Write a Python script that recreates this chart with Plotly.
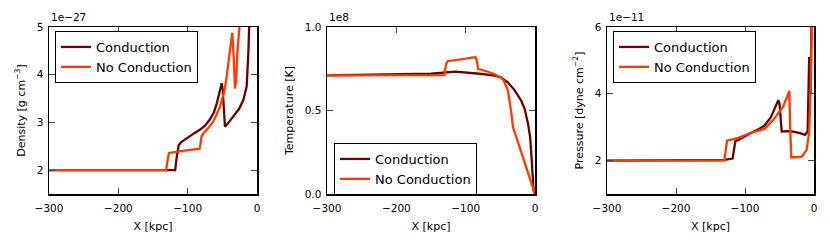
import plotly.graph_objects as go

# ---------------- data (x in kpc, y in scaled units shown by offset text) ----------------
dens_cond_x = [-300, -200, -125, -118, -116, -113, -110, -105, -100, -91, -82, -75, -68, -62, -58, -55, -52, -50.9, -49.5, -47.5, -46.2, -43, -34.2, -26, -19.7, -14.9, -12.5, -11.1, -10]
dens_cond_y = [2.0, 2.0, 2.0, 2.0, 2.25, 2.52, 2.58, 2.63, 2.69, 2.77, 2.85, 2.93, 3.06, 3.22, 3.40, 3.58, 3.76, 3.82, 3.7, 3.2, 2.91, 2.96, 3.12, 3.28, 3.47, 3.75, 4.45, 5.15, 5.6]

dens_noc_x = [-300, -200, -131, -129, -127, -110, -83, -82.2, -80, -77.4, -71.6, -62.9, -53.3, -47, -43.7, -38.9, -35.6, -33.8, -31.7, -30, -28.4, -24.5, -23]
dens_noc_y = [2.0, 2.0, 2.0, 2.2, 2.36, 2.40, 2.45, 2.49, 2.7, 2.77, 2.86, 3.02, 3.33, 3.66, 3.96, 4.52, 4.88, 4.4, 3.71, 3.9, 4.45, 5.15, 5.6]

temp_cond_x = [-300, -200, -150, -115, -100, -80, -60, -50, -40, -30, -20, -15, -10, -7, -5, -3.5, -2, 0]
temp_cond_y = [0.71, 0.715, 0.72, 0.733, 0.728, 0.72, 0.71, 0.70, 0.672, 0.625, 0.56, 0.51, 0.42, 0.34, 0.22, 0.10, 0.02, 0.0]

temp_noc_x = [-300, -200, -131, -128, -126, -100, -86, -84, -82, -70, -60, -50, -45, -39, -36, -34, -31.7, -20, -10, -3, 0]
temp_noc_y = [0.71, 0.71, 0.712, 0.78, 0.795, 0.81, 0.82, 0.80, 0.748, 0.735, 0.72, 0.70, 0.68, 0.62, 0.55, 0.48, 0.40, 0.25, 0.12, 0.03, 0.0]

pres_cond_x = [-300, -200, -130, -118, -116, -114, -110, -100, -90, -82, -71.7, -62.4, -57.4, -53, -51.7, -50, -48.5, -46.8, -40, -30, -20.3, -13, -9.2, -7, -5, -3.5]
pres_cond_y = [2.0, 2.0, 2.02, 2.06, 2.3, 2.58, 2.62, 2.74, 2.84, 2.92, 3.05, 3.30, 3.56, 3.76, 3.81, 3.7, 3.2, 2.87, 2.88, 2.87, 2.82, 2.77, 2.87, 5.1, 4.0, 6.5]

pres_noc_x = [-300, -200, -130, -128, -126, -110, -100, -90, -71.7, -58.9, -44.5, -39.6, -35.8, -34.5, -33, -25, -17.8, -10.6, -7, -4.8, -3.3, -2.5]
pres_noc_y = [2.0, 2.0, 2.0, 2.3, 2.6, 2.68, 2.76, 2.84, 2.95, 3.22, 3.62, 3.91, 4.09, 3.0, 2.1, 2.1, 2.12, 2.32, 2.87, 4.21, 6.0, 6.8]

series_names = ["Conduction", "No Conduction"]
y_titles = ["Density [g cm<sup>−3</sup>]", "Temperature [K]", "Pressure [dyne cm<sup>−2</sup>]"]
offset_texts = ["1e−27", "1e8", "1e−11"]
x_ticks = [-300, -200, -100, 0]
y_ticks = [[2, 3, 4, 5], [0.0, 0.5, 1.0], [2, 4, 6]]
y_tick_text = [["2", "3", "4", "5"], ["0.0", "0.5", "1.0"], ["2", "4", "6"]]
y_ranges = [[1.5, 5], [0, 1.0], [1, 6]]

COND = "#6b0000"
NOC = "#ff3a00"
FONT = "DejaVu Sans"
W, H = 830, 247

panels_px = [(49, 257), (327, 535), (607, 814)]
top_px, bot_px = 27, 194
legend_pos = [(55, 31), (334, 143), (613, 31)]

data = [
    (dens_cond_x, dens_cond_y, dens_noc_x, dens_noc_y),
    (temp_cond_x, temp_cond_y, temp_noc_x, temp_noc_y),
    (pres_cond_x, pres_cond_y, pres_noc_x, pres_noc_y),
]

fig = go.Figure()
layout = dict(
    template="none",
    width=W, height=H, margin=dict(l=0, r=0, t=0, b=0, pad=0, autoexpand=False),
    paper_bgcolor="white", plot_bgcolor="white",
    font=dict(family=FONT, color="black", size=11),
    annotations=[],
    hovermode=False,
)

for i, (cx, cy, nx, ny) in enumerate(data):
    xa = "x" if i == 0 else f"x{i+1}"
    ya = "y" if i == 0 else f"y{i+1}"
    lg = "legend" if i == 0 else f"legend{i+1}"
    fig.add_trace(go.Scatter(x=cx, y=cy, mode="lines", name=series_names[0],
                             line=dict(color=COND, width=2.3), xaxis=xa, yaxis=ya,
                             legend=lg, showlegend=True, cliponaxis=True))
    fig.add_trace(go.Scatter(x=nx, y=ny, mode="lines", name=series_names[1],
                             line=dict(color=NOC, width=2.3), xaxis=xa, yaxis=ya,
                             legend=lg, showlegend=True, cliponaxis=True))
    l, r = panels_px[i]
    xkey = "xaxis" if i == 0 else f"xaxis{i+1}"
    ykey = "yaxis" if i == 0 else f"yaxis{i+1}"
    layout[xkey] = dict(
        domain=[l / W, r / W], anchor=ya, range=[-300, 0], automargin=False,
        tickmode="array", tickvals=x_ticks,
        ticks="inside", ticklen=6, tickwidth=1, tickcolor="#444",
        ticklabelstandoff=4,
        showline=True, linecolor="black", linewidth=1.5, mirror="ticks",
        showgrid=False, zeroline=False,
        tickfont=dict(family=FONT, size=10.5, color="black"),
        title=dict(text="X [kpc]", font=dict(family=FONT, size=11), standoff=9),
    )
    layout[ykey] = dict(
        domain=[1 - bot_px / H, 1 - top_px / H], anchor=xa, range=y_ranges[i], automargin=False,
        tickmode="array", tickvals=y_ticks[i], ticktext=y_tick_text[i],
        ticks="inside", ticklen=6, tickwidth=1, tickcolor="#444",
        ticklabelstandoff=2,
        showline=True, linecolor="black", linewidth=1.5, mirror="ticks",
        showgrid=False, zeroline=False,
        tickfont=dict(family=FONT, size=10.5, color="black"),
        title=dict(text=y_titles[i], font=dict(family=FONT, size=11), standoff=9),
    )
    lx, ly = legend_pos[i]
    layout[lg] = dict(
        x=lx / W, y=1 - ly / H, xanchor="left", yanchor="top",
        xref="paper", yref="paper",
        bgcolor="white", bordercolor="black", borderwidth=1,
        font=dict(family=FONT, size=13, color="black"),
        tracegroupgap=0,
    )
    layout["annotations"].append(dict(
        text=offset_texts[i], xref="paper", yref="paper",
        x=l / W, y=1 - 17 / H, xanchor="left", yanchor="middle",
        showarrow=False, font=dict(family=FONT, size=10.5, color="black"),
    ))

fig.update_layout(**layout)
fig.write_html("out.html", config={"displayModeBar": False, "staticPlot": True},
               post_script="document.body.style.margin='0px';")
